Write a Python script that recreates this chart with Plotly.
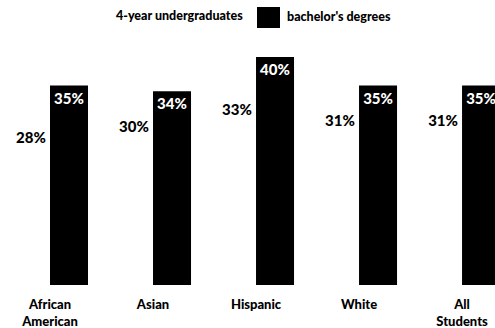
import plotly.graph_objects as go

categories = ["African<br>American", "Asian", "Hispanic", "White", "All<br>Students"]
undergrad = [28, 30, 33, 31, 31]
bachelors = [35, 34, 40, 35, 35]
undergrad_labels = [f"{v}%" for v in undergrad]
bachelor_labels = [f"{v}%" for v in bachelors]

FONT = "Lato"
W, H = 495, 328
T, B = 30, 43
PH = H - T - B

fig = go.Figure()
fig.add_trace(go.Bar(
    x=categories, y=undergrad, name="4-year undergraduates",
    marker=dict(color="white", line=dict(width=0)),
    text=undergrad_labels, textposition="inside", insidetextanchor="end",
    textfont=dict(family=FONT, size=15, color="black", weight=900),
    textangle=0,
))
fig.add_trace(go.Bar(
    x=categories, y=bachelors, name="bachelor's degrees",
    marker=dict(color="black", line=dict(width=0)),
    text=bachelor_labels, textposition="inside", insidetextanchor="end",
    textfont=dict(family=FONT, size=15, color="white", weight=900),
    textangle=0,
))

def py(px):
    return 1 + (T - px) / PH

fig.add_annotation(x=245 / W, y=py(16), xref="paper", yref="paper",
                   text="4-year undergraduates", showarrow=False,
                   xanchor="right", yanchor="middle",
                   font=dict(family=FONT, size=12.5, color="black", weight=900))
fig.add_annotation(x=285 / W, y=py(17), xref="paper", yref="paper",
                   text="bachelor's degrees", showarrow=False,
                   xanchor="left", yanchor="middle",
                   font=dict(family=FONT, size=12.5, color="black", weight=900))
fig.add_shape(type="rect", xref="paper", yref="paper",
              x0=257 / W, x1=280 / W, y0=py(28), y1=py(7),
              fillcolor="black", line=dict(width=0))

fig.update_layout(
    width=W, height=H,
    margin=dict(l=0, r=0, t=T, b=B),
    paper_bgcolor="white", plot_bgcolor="white",
    barmode="group", bargap=0.262, bargroupgap=0,
    showlegend=False,
    uniformtext=dict(minsize=14, mode="show"),
    xaxis=dict(range=[-50 / 103, 4.32], showgrid=False, zeroline=False,
               showline=False, ticks="outside", ticklen=7, tickcolor="white",
               automargin=False,
               tickfont=dict(family=FONT, size=13, color="black", weight=900)),
    yaxis=dict(range=[0, PH / 5.7], visible=False, showgrid=False, automargin=False),
)
fig.write_html("out.html")
